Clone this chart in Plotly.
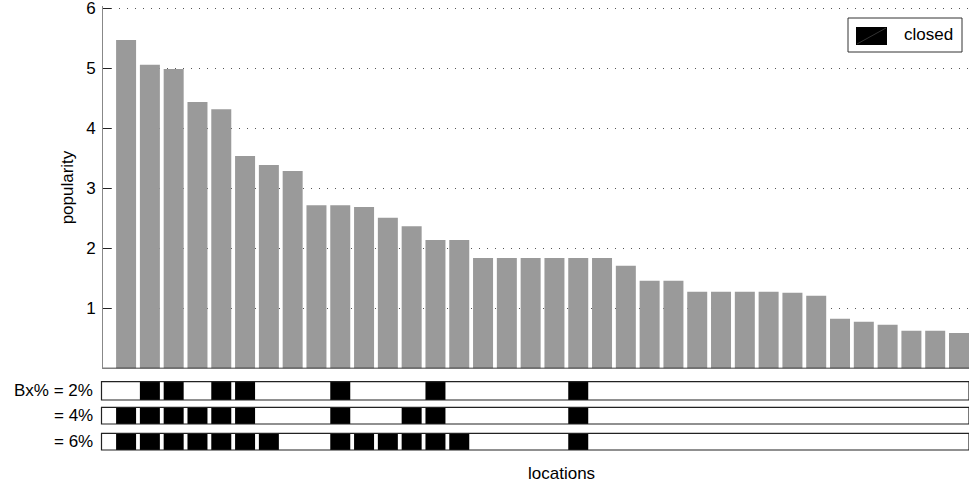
import plotly.graph_objects as go

# ---- data ----
locations = list(range(1, 37))
popularity = [5.47, 5.06, 4.99, 4.44, 4.32, 3.54, 3.39, 3.29,
              2.72, 2.72, 2.69, 2.51, 2.37, 2.14, 2.14,
              1.84, 1.84, 1.84, 1.84, 1.84, 1.84, 1.71, 1.46, 1.46,
              1.28, 1.28, 1.28, 1.28, 1.26, 1.21,
              0.83, 0.78, 0.73, 0.63, 0.63, 0.59]
strip_labels = ["Bx% = 2%", "= 4%", "= 6%"]
closed_2 = [2, 3, 5, 6, 10, 14, 20]
closed_4 = [1, 2, 3, 4, 5, 6, 10, 13, 14, 20]
closed_6 = [1, 2, 3, 4, 5, 6, 7, 10, 11, 12, 13, 14, 15, 20]
closed_sets = [closed_2, closed_4, closed_6]
y_ticks = [1, 2, 3, 4, 5, 6]

FONT = "Liberation Sans, Arial, sans-serif"
W, H = 969, 484
L, R, T, B = 103, 0, 4, 34
PW, PH = W - L - R, H - T - B
UNIT = (368.5 - 8.3) / 6.0   # pixels per popularity unit
YMAX = 6.03

def py(pix):
    return (H - B - pix) / PH

def px(pix):
    return (pix - L) / PW

fig = go.Figure()
fig.add_trace(go.Bar(x=locations, y=popularity, width=0.84,
                     marker=dict(color="#9a9a9a", line=dict(width=0)),
                     showlegend=False, hoverinfo="x+y"))

strip_doms = [[py(400), py(381.7)], [py(424), py(407.3)], [0, py(433.3)]]
yaxes = ["y2", "y3", "y4"]
for i, cs in enumerate(closed_sets):
    fig.add_trace(go.Bar(x=cs, y=[1] * len(cs), width=0.84, yaxis=yaxes[i],
                         marker=dict(color="black", line=dict(width=0)),
                         showlegend=False, name="closed"))

layout = dict(
    width=W, height=H,
    margin=dict(l=L, r=R, t=T, b=B, autoexpand=False),
    paper_bgcolor="white", plot_bgcolor="white",
    barmode="overlay",
    font=dict(family=FONT, size=17, color="black"),
    xaxis=dict(range=[0.03, 36.42], showticklabels=False, ticks="",
               showgrid=False, zeroline=False, showline=False,
               anchor="y", automargin=False),
    yaxis=dict(domain=[py(368.5), py(368.5 - YMAX * UNIT)], range=[0, YMAX], tickvals=y_ticks,
               ticks="inside", ticklen=8, tickcolor="#222", tickwidth=1,
               showline=True, linecolor="#888", linewidth=1,
               showgrid=True, gridcolor="#555", gridwidth=1, griddash="1px,7px",
               zeroline=False, ticklabelstandoff=3, ticklabeloverflow="allow",
               automargin=False,
               title=dict(text="popularity", standoff=8, font=dict(size=17))),
    shapes=[],
    annotations=[],
)
for i, ya in enumerate(["yaxis2", "yaxis3", "yaxis4"]):
    layout[ya] = dict(domain=strip_doms[i], range=[0, 1], anchor="x",
                      showticklabels=False, ticks="", showgrid=False,
                      zeroline=False, showline=False, automargin=False)

# bottom axis line of main plot
layout["shapes"].append(dict(type="line", xref="paper", yref="y", x0=0, x1=1, y0=0, y1=0,
                             line=dict(color="black", width=1.5)))
# strip borders
for i, yr in enumerate(["y2 domain", "y3 domain", "y4 domain"]):
    layout["shapes"].append(dict(type="rect", xref="paper", yref=yr,
                                 x0=px(101.5), x1=1.0, y0=0, y1=1,
                                 line=dict(color="#222", width=1.2),
                                 fillcolor="rgba(0,0,0,0)", layer="above"))
    layout["annotations"].append(dict(text=strip_labels[i], xref="paper", yref=yr,
                                      x=px(95), y=0.5, xanchor="right", yanchor="middle",
                                      showarrow=False, font=dict(size=17)))

# x-axis title
layout["annotations"].append(dict(text="locations", xref="paper", yref="paper",
                                  x=px(561), y=py(474), xanchor="center", yanchor="middle",
                                  showarrow=False, font=dict(size=17)))

# legend (manual)
layout["shapes"].append(dict(type="rect", xref="paper", yref="paper",
                             x0=px(848), x1=px(962), y0=py(52), y1=py(18),
                             line=dict(color="#333", width=1), fillcolor="white"))
layout["shapes"].append(dict(type="rect", xref="paper", yref="paper",
                             x0=px(856), x1=px(887), y0=py(45), y1=py(27),
                             line=dict(color="black", width=0), fillcolor="black"))
layout["shapes"].append(dict(type="line", xref="paper", yref="paper",
                             x0=px(857), x1=px(886), y0=py(44), y1=py(28),
                             line=dict(color="#555", width=0.6)))
layout["annotations"].append(dict(text="closed", xref="paper", yref="paper",
                                  x=px(902), y=py(35), xanchor="left", yanchor="middle",
                                  showarrow=False, font=dict(size=17)))

fig.update_layout(**layout)
fig.write_html("out.html")
